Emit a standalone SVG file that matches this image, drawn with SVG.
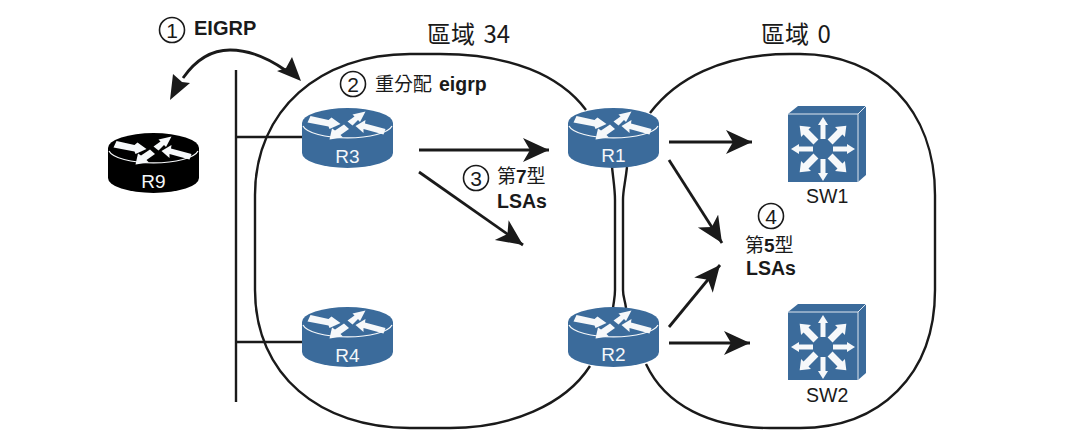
<svg xmlns="http://www.w3.org/2000/svg" width="1081" height="446" viewBox="0 0 1081 446">
<style>
text{font-family:"Liberation Sans","Noto Sans CJK TC",sans-serif;fill:#1a1a1a}
.cjk{font-family:"Noto Sans CJK TC","Liberation Sans",sans-serif}
.b{font-weight:700}
.lbl{font-size:19.5px}
.num{font-size:21px;text-anchor:middle}
.rname{font-size:19px;text-anchor:middle;fill:#f4f7fa}
.ring{fill:none;stroke:#1a1a1a;stroke-width:1.6}
.area{fill:none;stroke:#1a1a1a;stroke-width:2.4}
.wire{fill:none;stroke:#1a1a1a;stroke-width:2.4}
.arrow{fill:none;stroke:#1a1a1a;stroke-width:2.8;marker-end:url(#head)}
.curve{fill:none;stroke:#1a1a1a;stroke-width:2.8}
.blue{fill:#3b6b9b}
.black{fill:#000}
.wh{fill:#f6f8fa}
.ah{fill:#1a1a1a}
</style>
<defs>
<marker id="head" markerUnits="userSpaceOnUse" markerWidth="30" markerHeight="28" refX="26" refY="12" orient="auto">
<path d="M26,12 L0,0 L7,12 L0,24 Z" fill="#1a1a1a"/>
</marker>
<path id="rbody" d="M-45.5,0 V30 A45.5,15 0 0 0 45.5,30 V0 A45.5,15 0 0 0 -45.5,0 Z"/>
<g id="rmarks">
<path d="M-44.5,3 A45,14 0 0 0 44.5,3" fill="none" stroke="#f6f8fa" stroke-width="1.2"/>
<polygon class="wh" points="-37,-7 -19,-3 -16,-5.5 -7,1 -18,6 -19,3.5 -40,-0.5"/>
<polygon class="wh" points="0,-1.5 7,-6.5 5,-8.5 18,-11.5 12.5,-1 10.5,-3 5,2.5"/>
<polygon class="wh" points="8,3 18,-3 17.5,0.5 38,6 36,11.5 16,6 16,10"/>
<polygon class="wh" points="-18,16.5 -15.5,5.5 -12.5,7.5 -3.5,1.5 1.5,6 -7,12 -4.5,14.5"/>
</g>
<polygon id="swarrow" class="wh" points="-2.5,-10 -2.5,-24 -5,-24 0,-32 5,-24 2.5,-24 2.5,-10"/>
<polygon id="swdiag" class="wh" points="-3.5,-10 -3.5,-24 -7,-24 0,-33 7,-24 3.5,-24 3.5,-10"/>
<g id="sw">
<polygon class="blue" points="0,8 10,0 78,0 78,69 70,76 0,76"/>
<path d="M0,8 H70 V76 M70,8 L78,0" fill="none" stroke="#dfe7ef" stroke-width="1"/>
<g transform="translate(35,43)">
<use href="#swarrow"/>
<use href="#swarrow" transform="rotate(90)"/>
<use href="#swarrow" transform="rotate(180)"/>
<use href="#swarrow" transform="rotate(270)"/>
<use href="#swdiag" transform="rotate(45)"/>
<use href="#swdiag" transform="rotate(135)"/>
<use href="#swdiag" transform="rotate(225)"/>
<use href="#swdiag" transform="rotate(315)"/>
</g>
</g>
</defs>
<rect width="1081" height="446" fill="#fff"/>

<g id="areas">
<path class="area" d="M586,110 C560,75 510,54 440,54 L410,54 C320,54 255,110 255,195 L255,290 C255,375 320,428 410,428 L450,428 C510,428 565,405 590,366"/>
<path class="area" d="M650,113 C675,80 720,54 790,54 L800,54 C880,54 935,110 935,195 L935,290 C935,375 880,428 800,428 L770,428 C710,428 665,405 646,364"/>
</g>

<g id="connectors">
<path class="wire" d="M236,70 V402"/>
<path class="wire" d="M236,137 H302"/>
<path class="wire" d="M236,342 H302"/>
<path class="wire" d="M612,167 C614,185 615,190 615,200 L615,290 C615,297 614,300 613,308"/>
<path class="wire" d="M627,167 C625,185 623,190 623,200 L623,290 C623,297 625,300 626,308"/>
<path class="curve" d="M183,78 C197,58 213,50 230,50 C250,50 268,58 285,70"/>
<path class="ah" d="M170,100 L173,74 L182,82 L190,83 Z"/>
<path class="ah" d="M301,81 L277,71 L286,68 L292,57 Z"/>
<path class="arrow" d="M419,150 H549"/>
<path class="arrow" d="M419,172 L523,245"/>
<path class="arrow" d="M669,142 H752"/>
<path class="arrow" d="M669,160 L722,243"/>
<path class="arrow" d="M669,327 L720,265"/>
<path class="arrow" d="M669,343 H750"/>
</g>

<g id="R9" transform="translate(153.5,148)">
<use href="#rbody" class="black"/><use href="#rmarks"/>
<text class="rname" x="0" y="40">R9</text>
</g>
<g id="R3" transform="translate(347.5,123)">
<use href="#rbody" class="blue"/><use href="#rmarks"/>
<text class="rname" x="0" y="40">R3</text>
</g>
<g id="R4" transform="translate(347.5,322)">
<use href="#rbody" class="blue"/><use href="#rmarks"/>
<text class="rname" x="0" y="40">R4</text>
</g>
<g id="R1" transform="translate(613.5,123)">
<use href="#rbody" class="blue"/><use href="#rmarks"/>
<text class="rname" x="0" y="39">R1</text>
</g>
<g id="R2" transform="translate(613.5,322)">
<use href="#rbody" class="blue"/><use href="#rmarks"/>
<text class="rname" x="0" y="39">R2</text>
</g>
<g id="SW1">
<use href="#sw" x="788" y="106"/>
<text class="lbl" x="806" y="203">SW1</text>
</g>
<g id="SW2">
<use href="#sw" x="788" y="304"/>
<text class="lbl" x="806" y="402">SW2</text>
</g>

<g id="labels">
<text class="cjk" x="427" y="43" font-size="24" word-spacing="3">區域 34</text>
<text class="cjk" x="761" y="43" font-size="24" word-spacing="3">區域 0</text>
<circle class="ring" cx="172" cy="30" r="12.5"/><text class="num" x="172" y="37.5">1</text>
<text class="b" x="194" y="35" style="font-size:20px">EIGRP</text>
<circle class="ring" cx="353" cy="84" r="12.5"/><text class="num" x="353" y="91.5">2</text>
<text x="375" y="91"><tspan class="cjk" font-size="19">重分配</tspan><tspan class="b" dx="7" font-size="19.5">eigrp</tspan></text>
<circle class="ring" cx="476" cy="178" r="12.5"/><text class="num" x="476" y="185.5">3</text>
<text x="497" y="183" font-size="19"><tspan class="cjk">第</tspan><tspan class="b">7</tspan><tspan class="cjk">型</tspan></text>
<text class="b" x="497" y="208" style="font-size:19.5px">LSAs</text>
<circle class="ring" cx="771" cy="216" r="12.5"/><text class="num" x="771" y="223.5">4</text>
<text x="745" y="252" font-size="19"><tspan class="cjk">第</tspan><tspan class="b">5</tspan><tspan class="cjk">型</tspan></text>
<text class="b" x="746" y="275" style="font-size:19.5px">LSAs</text>
</g>
</svg>
